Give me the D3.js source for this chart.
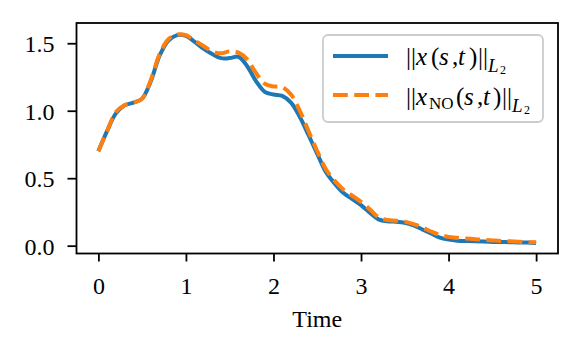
<!DOCTYPE html>
<html>
<head>
<meta charset="utf-8">
<script src="https://cdn.jsdelivr.net/npm/d3@7"></script>
<style>
  body { margin: 0; background: #fff; }
</style>
</head>
<body>
<div id="root"></div>
<script>
// time grid (0 .. 5, step 0.1)
var times = [0.0, 0.1, 0.2, 0.3, 0.4, 0.5, 0.6, 0.7, 0.8, 0.9,
  1.0, 1.1, 1.2, 1.3, 1.4, 1.5, 1.6, 1.7, 1.8, 1.9,
  2.0, 2.1, 2.2, 2.3, 2.4, 2.5, 2.6, 2.7, 2.8, 2.9,
  3.0, 3.1, 3.2, 3.3, 3.4, 3.5, 3.6, 3.7, 3.8, 3.9,
  4.0, 4.1, 4.2, 4.3, 4.4, 4.5, 4.6, 4.7, 4.8, 4.9, 5.0];
// ||x(s,t)||_L2
var normTrue = [0.70, 0.85, 0.98, 1.04, 1.06, 1.09, 1.22, 1.41, 1.52, 1.56,
  1.555, 1.51, 1.46, 1.42, 1.39, 1.39, 1.40, 1.33, 1.22, 1.14,
  1.12, 1.11, 1.06, 0.955, 0.82, 0.68, 0.545, 0.46, 0.39, 0.345,
  0.30, 0.245, 0.195, 0.18, 0.178, 0.17, 0.15, 0.12, 0.09, 0.06,
  0.045, 0.037, 0.034, 0.032, 0.03, 0.028, 0.027, 0.025, 0.024, 0.023, 0.02];
// ||x_NO(s,t)||_L2
var normNO = [0.70, 0.85, 0.99, 1.04, 1.06, 1.09, 1.23, 1.42, 1.53, 1.565,
  1.56, 1.52, 1.48, 1.44, 1.425, 1.44, 1.43, 1.38, 1.28, 1.20,
  1.18, 1.175, 1.12, 1.00, 0.85, 0.70, 0.565, 0.48, 0.415, 0.37,
  0.325, 0.27, 0.21, 0.19, 0.185, 0.178, 0.16, 0.135, 0.105, 0.08,
  0.065, 0.058, 0.053, 0.048, 0.043, 0.039, 0.035, 0.032, 0.029, 0.027, 0.025];
var xTicks = [0, 1, 2, 3, 4, 5];
var yTicks = [0.0, 0.5, 1.0, 1.5];

var w = 581, h = 355;
var plot = { left: 76.5, right: 558, top: 23, bottom: 253.5 };
var blue = "#1f77b4", orange = "#ff7f0e";
var serif = "Liberation Serif";

var svg = d3.select("#root").append("svg").attr("width", w).attr("height", h)
  .attr("font-family", serif);
svg.append("rect").attr("width", w).attr("height", h).attr("fill", "white");

var xScale = d3.scaleLinear().domain([-0.25, 5.25]).range([plot.left, plot.right]);
var yScale = d3.scaleLinear().domain([-0.058, 1.65]).range([plot.bottom, plot.top]);

// lines
var line = function(vals) {
  return d3.line()
    .x(function(d, i) { return xScale(times[i]); })
    .y(function(d) { return yScale(d); })
    .curve(d3.curveCatmullRom.alpha(0.5))(vals);
};
svg.append("path").attr("d", line(normTrue)).attr("fill", "none")
  .attr("stroke", blue).attr("stroke-width", 4);
svg.append("path").attr("d", line(normNO)).attr("fill", "none")
  .attr("stroke", orange).attr("stroke-width", 4).attr("stroke-dasharray", "14.8,6.4");

// axes
var xAxis = d3.axisBottom(xScale).tickValues(xTicks).tickFormat(d3.format("d"))
  .tickSize(8).tickPadding(15);
var gx = svg.append("g").attr("transform", "translate(0," + plot.bottom + ")").call(xAxis);
var yAxis = d3.axisLeft(yScale).tickValues(yTicks).tickFormat(d3.format(".1f"))
  .tickSize(9).tickPadding(13);
var gy = svg.append("g").attr("transform", "translate(" + plot.left + ",0)").call(yAxis);
[gx, gy].forEach(function(g) {
  g.attr("font-family", serif).attr("font-size", 24);
  g.select(".domain").remove();
  g.selectAll(".tick line").attr("stroke", "black").attr("stroke-width", 1.8);
  g.selectAll(".tick text").attr("font-family", serif).attr("font-size", "24px").attr("fill", "black");
});
gy.selectAll(".tick text").attr("dy", "0.36em");

// frame
svg.append("rect").attr("x", plot.left).attr("y", plot.top)
  .attr("width", plot.right - plot.left).attr("height", plot.bottom - plot.top)
  .attr("fill", "none").attr("stroke", "black").attr("stroke-width", 1.8);

// x label
svg.append("text").attr("x", (plot.left + plot.right) / 2).attr("y", 327)
  .attr("text-anchor", "middle").attr("font-family", serif).attr("font-size", "24px").text("Time");

// legend
var lg = svg.append("g");
lg.append("rect").attr("x", 323).attr("y", 35).attr("width", 220).attr("height", 87)
  .attr("rx", 5).attr("fill", "white").attr("fill-opacity", 0.8)
  .attr("stroke", "#cccccc").attr("stroke-width", 1.8);
lg.append("line").attr("x1", 333).attr("x2", 388).attr("y1", 56).attr("y2", 56)
  .attr("stroke", blue).attr("stroke-width", 4);
lg.append("line").attr("x1", 333).attr("x2", 388).attr("y1", 95).attr("y2", 95)
  .attr("stroke", orange).attr("stroke-width", 4).attr("stroke-dasharray", "14.8,6.4");

// each piece: [text, x, baseline offset, size, italic]
var row1 = [["||", 406, 0, 25, false], ["x", 416, 0, 25, true], ["(", 431, 0, 25, false],
  ["s", 439, 0, 25, true], [",", 452, 0, 25, false], ["t", 458, 0, 25, true],
  [")", 469, 0, 25, false], ["||", 478, 0, 25, false], ["L", 488, 7, 19, true], ["2", 500, 8.5, 12, false]];
var row2 = [["||", 406, 0, 25, false], ["x", 416, 0, 25, true], ["NO", 429, 3.5, 17, false],
  ["(", 456, 0, 25, false], ["s", 464, 0, 25, true], [",", 477, 0, 25, false],
  ["t", 483, 0, 25, true], [")", 493, 0, 25, false], ["||", 502, 0, 25, false],
  ["L", 512, 7, 19, true], ["2", 524, 8.5, 12, false]];
function legendText(pieces, y) {
  lg.selectAll(null).data(pieces).enter().append("text")
    .attr("x", function(p) { return p[1]; })
    .attr("y", function(p) { return y + p[2]; })
    .attr("font-family", serif)
    .attr("font-size", function(p) { return p[3] + "px"; })
    .attr("font-style", function(p) { return p[4] ? "italic" : "normal"; })
    .attr("fill", "black")
    .text(function(p) { return p[0]; });
}
legendText(row1, 65);
legendText(row2, 105);
</script>
</body>
</html>
